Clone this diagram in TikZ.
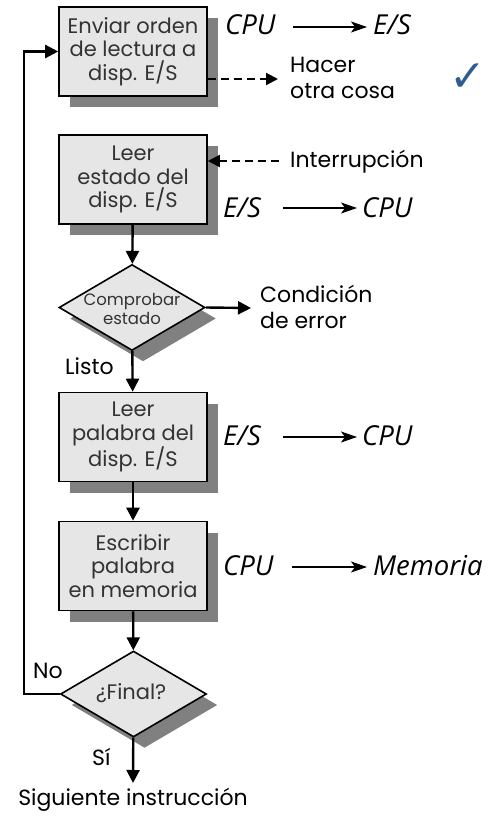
\documentclass[tikz,border=0pt]{standalone}
\usepackage{fontspec}
\setmainfont{Poppins}
\newfontfamily\labfont{Open Sans}
\newfontfamily\symfont{DejaVu Sans}
\usetikzlibrary{arrows.meta,shapes.geometric,shadows}
\definecolor{boxfill}{HTML}{E6E6E6}
\definecolor{shade}{HTML}{808080}
\definecolor{txtgray}{HTML}{333333}
\definecolor{checkblue}{HTML}{2F5D8F}
\tikzset{
  sh/.style={general shadow={fill=shade,shadow xshift=11pt,shadow yshift=-11pt}},
  procbox/.style={sh,draw=black,line width=1.6pt,fill=boxfill,minimum width=148pt,minimum height=89pt,inner sep=0pt,align=center,text=txtgray,font=\fontsize{21}{23.5}\selectfont},
  dia/.style={sh,draw=black,line width=1.6pt,fill=boxfill,shape=diamond,minimum width=146pt,minimum height=86pt,inner sep=0pt},
  flow/.style={line width=2.4pt,-{Triangle[width=13pt,length=13pt]}},
  dflow/.style={line width=2pt,dash pattern=on 8pt off 5pt,-{Triangle[width=12pt,length=12pt]}},
  thin/.style={line width=1.3pt,-{Stealth[width=11pt,length=16pt,inset=4pt]}},
  ital/.style={font=\labfont\itshape\fontsize{27.5}{30}\selectfont,inner sep=0pt,anchor=base west},
  plain/.style={font=\fontsize{22}{26}\selectfont,inner sep=0pt,anchor=base west,align=left}
}
\begin{document}
\begin{tikzpicture}[x=1pt,y=-1pt]
\useasboundingbox (0,0) rectangle (487,816);
% boxes
\node[procbox] (b1) at (133,51.5) {Enviar orden\\de lectura a\\disp. E/S};
\node[procbox] (b2) at (133,179.5) {Leer\\estado del\\disp. E/S};
\node[dia] (d1) at (132,307.5) {};
\node[text=txtgray,align=center,font=\fontsize{16.5}{19}\selectfont] (d1t) at (132,309) {Comprobar\\estado};
\node[procbox] (b3) at (133,437) {Leer\\palabra del\\disp. E/S};
\node[procbox] (b4) at (133,566) {Escribir\\palabra\\en memoria};
\node[dia] (d2) at (133.5,694) {};
\node[text=txtgray,font=\fontsize{21}{24}\selectfont] (d2t) at (131,693) {¿Final?};
\coordinate (endp) at (133,783);
\node[plain,anchor=base] (sig) at (133,805) {Siguiente instrucción};
% flow
\draw[flow] (b2) -- (d1);
\draw[flow] (d1) -- (b3);
\draw[flow] (b3) -- (b4);
\draw[flow] (b4) -- (d2);
\draw[flow] (d2) -- (endp);
\draw[flow] (d2.west) -- ++(-36,0) |- (b1.west);
% labels
\node[plain] (listo) at (65,374) {Listo};
\node[plain] (no) at (33,678) {No};
\node[plain] (si) at (92,765) {Sí};
% row 1
\node[ital] (cpu1) at (225,35) {CPU};
\node[ital] (es1) at (373,35) {E/S};
\coordinate (a1s) at (293,27);
\coordinate (a1e) at (367,27);
\draw[thin] (a1s) -- (a1e);
\node[plain] (hacer) at (290,73) {Hacer};
\node[plain] (otra) at (290,98) {otra cosa};
\coordinate (h1) at (278,79);
\draw[dflow] (b1.east |- h1) -- (h1);
\node[font=\symfont\fontsize{44}{44}\selectfont,text=checkblue,inner sep=0pt] (chk) at (468,78) {✓};
% row 2
\node[plain] (intr) at (290,167) {Interrupción};
\coordinate (i1) at (279,161);
\draw[dflow] (i1) -- (b2.east |- i1);
\node[ital] (es2) at (223,217) {E/S};
\node[ital] (cpu2) at (362,217) {CPU};
% row 3 condicion
\node[plain] (cond) at (260,302) {Condición};
\node[plain] (deerr) at (260,328) {de error};
\coordinate (c1) at (251,308);
\draw[flow] (d1.east) -- (c1);
\node[ital] (es3) at (223,445) {E/S};
\node[ital] (cpu3) at (362,445) {CPU};
\node[ital] (cpu4) at (223,575) {CPU};
\node[ital] (mem) at (373,575) {Memoria};
\coordinate (r2s) at (283,208); \coordinate (r2e) at (357,208);
\coordinate (r3s) at (283,437); \coordinate (r3e) at (357,437);
\coordinate (r4s) at (292,567); \coordinate (r4e) at (367,567);
\draw[thin] (r2s) -- (r2e);
\draw[thin] (r3s) -- (r3e);
\draw[thin] (r4s) -- (r4e);
\end{tikzpicture}
\end{document}
